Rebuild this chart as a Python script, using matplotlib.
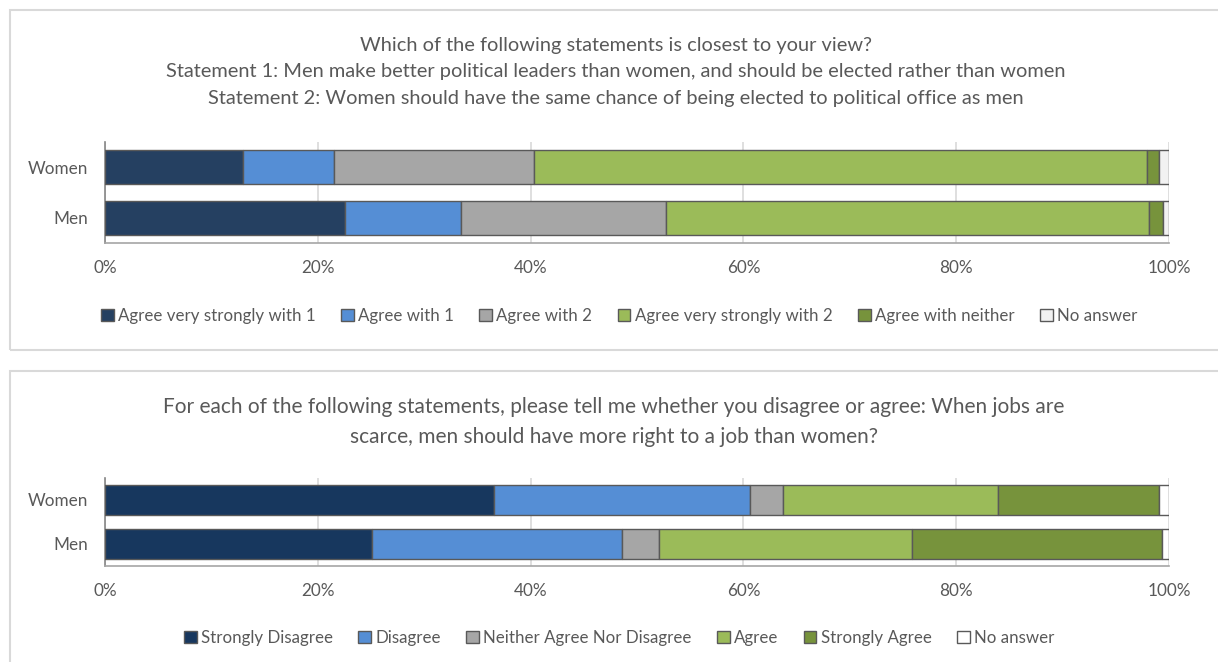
import matplotlib
matplotlib.use("Agg")
import matplotlib.pyplot as plt
from matplotlib.patches import Rectangle, Patch

plt.rcParams['font.family'] = ['Lato', 'DejaVu Sans']

groups = ["Men", "Women"]

# Chart 1
title1 = ("Which of the following statements is closest to your view?\n"
          "Statement 1: Men make better political leaders than women, and should be elected rather than women\n"
          "Statement 2: Women should have the same chance of being elected to political office as men")
cats1 = ["Agree very strongly with 1", "Agree with 1", "Agree with 2",
         "Agree very strongly with 2", "Agree with neither", "No answer"]
vals1_men = [22.6, 10.9, 19.2, 45.4, 1.3, 0.6]
vals1_women = [13.0, 8.5, 18.8, 57.6, 1.2, 0.9]
colors1 = ["#254061", "#558ED5", "#A6A6A6", "#9BBB59", "#77933C", "#F2F2F2"]

# Chart 2
title2 = ("For each of the following statements, please tell me whether you disagree or agree: When jobs are\n"
          "scarce, men should have more right to a job than women?")
cats2 = ["Strongly Disagree", "Disagree", "Neither Agree Nor Disagree",
         "Agree", "Strongly Agree", "No answer"]
vals2_men = [25.1, 23.5, 3.5, 23.7, 23.5, 0.7]
vals2_women = [36.6, 24.0, 3.1, 20.2, 15.2, 0.9]
colors2 = ["#17375E", "#558ED5", "#A6A6A6", "#9BBB59", "#77933C", "#FFFFFF"]

xticks = [0, 20, 40, 60, 80, 100]
xticklabels = ["0%", "20%", "40%", "60%", "80%", "100%"]

W, H = 1218, 662
fig = plt.figure(figsize=(W / 100, H / 100), dpi=100)
TXT = "#595959"
EDGE = "#595959"

def fx(px):
    return px / W

def fy(py):
    return 1 - py / H

# panel borders
for (x0, y0, x1, y1) in [(10, 10, 1230, 350), (10, 371, 1230, 680)]:
    fig.patches.append(Rectangle((fx(x0), fy(y1)), fx(x1 - x0), (y1 - y0) / H,
                                 transform=fig.transFigure, fill=False,
                                 edgecolor="#D9D9D9", linewidth=1.5, zorder=0))

def draw(ax, men, women, cats, colors, bar_h):
    left_m = 0.0
    left_w = 0.0
    for i in range(len(cats)):
        ax.barh([0], [men[i]], left=[left_m], height=bar_h, color=colors[i],
                edgecolor=EDGE, linewidth=1.0, zorder=3)
        ax.barh([1], [women[i]], left=[left_w], height=bar_h, color=colors[i],
                edgecolor=EDGE, linewidth=1.0, zorder=3)
        left_m += men[i]
        left_w += women[i]
    ax.set_xlim(0, 100)
    ax.set_ylim(-0.5, 1.5)
    ax.set_yticks([0, 1])
    ax.set_yticklabels(groups)
    ax.set_xticks(xticks)
    ax.set_xticklabels(xticklabels)
    ax.tick_params(axis='both', length=0, labelsize=12.3, colors=TXT)
    ax.tick_params(axis='x', pad=12.5)
    ax.tick_params(axis='y', pad=12)
    ax.grid(axis='x', color="#D9D9D9", linewidth=1.2, zorder=0)
    for s in ["top", "right"]:
        ax.spines[s].set_visible(False)
    ax.spines["left"].set_color("#868686")
    ax.spines["bottom"].set_color("#A6A6A6")
    ax.spines["left"].set_linewidth(1.2)
    ax.spines["bottom"].set_linewidth(1.2)
    ax.set_axisbelow(True)

ax1 = fig.add_axes([fx(105), fy(243), fx(1169 - 105), (243 - 142) / H])
draw(ax1, vals1_men, vals1_women, cats1, colors1, 0.67)
ax2 = fig.add_axes([fx(105), fy(566), fx(1169 - 105), (566 - 478) / H])
draw(ax2, vals2_men, vals2_women, cats2, colors2, 0.66)

fig.text(fx(616), fy(72), title1, ha="center", va="center", fontsize=14.4,
         color=TXT, linespacing=1.68)
fig.text(fx(614), fy(422), title2, ha="center", va="center", fontsize=15.0,
         color=TXT, linespacing=1.62)

def legend(cats, colors, ypx):
    handles = [Patch(facecolor=c, edgecolor=EDGE, linewidth=1.0) for c in colors]
    fig.legend(handles, cats, loc="center", bbox_to_anchor=(fx(619), fy(ypx)),
               ncol=len(cats), frameon=False, fontsize=12.2, labelcolor=TXT,
               handlelength=0.75, handleheight=0.75, handletextpad=0.25,
               columnspacing=1.5, borderpad=0)

legend(cats1, colors1, 316)
legend(cats2, colors2, 638)

fig.savefig("out.png", dpi=100)
